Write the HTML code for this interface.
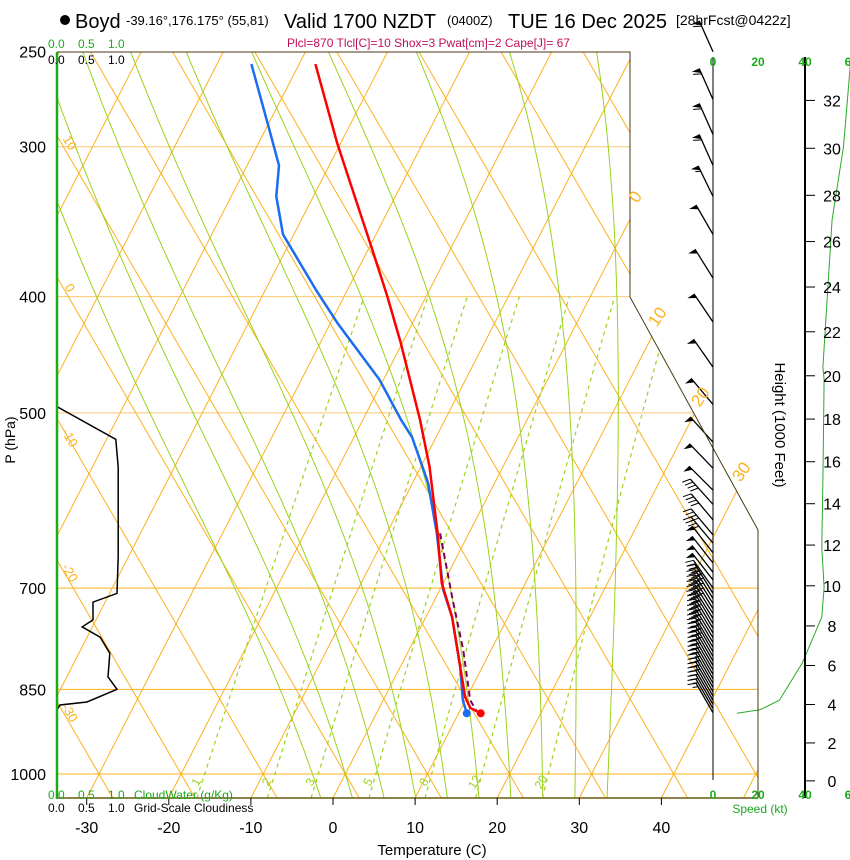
<!DOCTYPE html>
<html><head><meta charset="utf-8"><style>
html,body{margin:0;padding:0;background:#fff;}
svg{display:block;font-family:"Liberation Sans",sans-serif;}
</style></head><body>
<svg id="chart" width="850" height="860" viewBox="0 0 850 860" xmlns="http://www.w3.org/2000/svg">
<defs><clipPath id="plotclip"><polygon points="57,52 630,52 630,297 758,530 758,798 57,798"/></clipPath></defs>
<g id="grid" clip-path="url(#plotclip)"></g>
<g id="series"></g>
<g id="winds"></g>
<g id="axes"></g>
<g>
<circle cx="65" cy="20" r="5" fill="#000"/>
<text x="75" y="28" font-size="20">Boyd</text>
<text x="126" y="25" font-size="13">-39.16°,176.175° (55,81)</text>
<text x="284" y="28" font-size="20">Valid 1700 NZDT</text>
<text x="447" y="25" font-size="13">(0400Z)</text>
<text x="508" y="28" font-size="20">TUE 16 Dec 2025</text>
<text x="676" y="25" font-size="14">[28hrFcst@0422z]</text>
<text x="287" y="47" font-size="12" fill="#c0105a">Plcl=870 Tlcl[C]=10 Shox=3 Pwat[cm]=2 Cape[J]= 67</text>
</g>
</svg>
<script>
// ---- data ----
const tempP = [256,298,326,364,400,437,507,555,630,693,740,814,863,881,890];
const tempT = [-48.0,-40.4,-35.6,-29.7,-24.7,-20.2,-13.0,-8.9,-3.8,-0.2,3.2,7.3,9.8,11.1,12.7];
const dewP = [256,291,311,330,355,395,421,469,507,524,572,630,702,740,814,868,890];
const dewT = [-55.8,-49.4,-46.1,-44.5,-41.3,-33.8,-29.1,-20.5,-15.3,-12.9,-8.1,-3.9,0.4,3.2,7.3,9.7,11.0];
const parcelP = [630,716,788,868,888];
const parcelT = [-3.5,2.2,6.6,10.6,12.2];
const cloudP = [494,526,555,659,707,719,744,754,769,793,830,850,871,876,884];
const cloudV = [0,0.98,1.02,1.02,1.0,0.6,0.6,0.42,0.72,0.88,0.85,1.0,0.5,0.05,0];
const speedP = [890,884,868,808,740,699,647,569,469,458,345,300,256];
const speedV = [10.5,20.5,29,39,47.5,48.5,47.5,48,48.5,48,52,57,60];
const barbP = [250,274,293,311,330,355,386,420,458,492,529,556,580,596,614,632,642,654,667,679,689,700,707,714,721,728,735,742,749,756,763,770,777,784,791,798,805,812,819,826,833,840,847,854,861,868,875,882,889];
const barbDir = [336,336,336,336,334,330,328,326,325,320,318,316,315,318,320,320,320,322,322,322,322,325,328,328,328,328,328,328,329,329,329,329,329,329,330,330,330,330,330,330,330,330,330,330,330,330,330,330,330];
const barbSpd = [60,60,60,60,55,50,50,50,50,50,50,50,50,40,40,40,40,50,50,50,50,45,45,45,45,45,40,40,40,40,40,35,35,35,35,35,30,30,30,30,25,25,25,25,20,20,20,15,15];
const isoTemps = [-120,-110,-100,-90,-80,-70,-60,-50,-40,-30,-20,-10,0,10,20,30,40,50];
const thetaVals = [-40,-30,-20,-10,0,10,20,30,40,50,60,70,80,90,100,110,120,130,140,150,160];
const moistVals = [-4,0,4,8,12,16,20,24,28,32];
const mixVals = [1,2,3,5,8,12,20];
const tempTicks = [-30,-20,-10,0,10,20,30,40];
const presTicks = [250,300,400,500,700,850,1000];
const heightTicks = [0,2,4,6,8,10,12,14,16,18,20,22,24,26,28,30,32];
const isoLabels = [0,10,20,30];
const thetaLabels = [10,0,-10,-20,-30];

// ---- scales ----
const NS="http://www.w3.org/2000/svg";
function Y(p){return 774+521*Math.log(p/1000);}
function X(T,p){return 333+8.21*T+0.513*(798-Y(p));}
function TH(th,p){return X(th,1000)-0.58*(774-Y(p));}
function pOfY(y){return 1000*Math.exp((y-774)/521);}
function SX(s){return 713+s*2.29;}
function CX(c){return 57+c*60;}
function hY(kft){const z=kft*304.8;return Y(1013.25*Math.pow(1-2.25577e-5*z,5.25588));}
function mk(tag,attrs,parent){const e=document.createElementNS(NS,tag);for(const k in attrs)e.setAttribute(k,attrs[k]);parent.appendChild(e);return e;}
function poly(pts){return pts.map(q=>q[0].toFixed(1)+","+q[1].toFixed(1)).join(" ");}
const grid=document.getElementById('grid'),series=document.getElementById('series'),winds=document.getElementById('winds'),axes=document.getElementById('axes');
const ORANGE="#fbb21e",GREEN="#9ad21e";
const pBot=pOfY(798);

presTicks.forEach(p=>{
  const l=mk('line',{x1:57,x2:760,y1:Y(p),y2:Y(p),stroke:(p>=700?ORANGE:"#f8c870"),'stroke-width':1},grid);
  
  
});
isoTemps.forEach(t=>{
  const l=mk('line',{x1:X(t,pBot),y1:798,x2:X(t,250),y2:52,stroke:ORANGE,'stroke-width':1},grid);
  
  
});
thetaVals.forEach(th=>{
  const l=mk('line',{x1:TH(th,pBot),y1:798,x2:TH(th,250),y2:52,stroke:ORANGE,'stroke-width':1},grid);
  
  
});
function es(T){return 6.112*Math.exp(17.67*T/(T+243.5));}
function dTdp(Tc,p){const T=Tc+273.15;const e=es(Tc);const rs=0.622*e/(p-e);return (287*T+2.5e6*rs)/(p*(1004+2.5e6*2.5e6*rs*0.622/(287*T*T)));}
moistVals.forEach(t0=>{
  const pts=[];let T=t0,p=1000;const down=[];
  while(p<pBot){const d=5;T+=dTdp(T,p)*d;p+=d;down.push([X(T,p),Y(p)]);}
  T=t0;p=1000;pts.push([X(T,p),Y(p)]);
  while(p>250){const d=-5;T+=dTdp(T,p)*d;p+=d;pts.push([X(T,p),Y(p)]);}
  const all=down.reverse().concat(pts);
  const l=mk('polyline',{points:poly(all),fill:'none',stroke:GREEN,'stroke-width':1},grid);
  
  
});
function Tmix(w,p){const e=w*p/(622+w);const a=Math.log(e/6.112);return 243.5*a/(17.67-a);}
mixVals.forEach(w=>{
  const pts=[];for(let p=pBot;p>=400;p-=10)pts.push([X(Tmix(w,p),p),Y(p)]);pts.push([X(Tmix(w,400),400),Y(400)]);
  const l=mk('polyline',{points:poly(pts),fill:'none',stroke:GREEN,'stroke-width':1.2,'stroke-dasharray':'4,4'},grid);
  
  
  const lx=X(Tmix(w,1030),1030),ly=784;
  const tx=mk('text',{x:lx,y:ly,'font-size':12,fill:GREEN,transform:`rotate(-60 ${lx} ${ly})`,'text-anchor':'middle'},grid);tx.textContent=w;
  
  
});
mk('polyline',{points:"57,52 630,52 630,297 758,530 758,798",fill:'none',stroke:'#4a3a10','stroke-width':1},axes);
mk('line',{x1:57,y1:798,x2:758,y2:798,stroke:'#6a5a10','stroke-width':1.5},axes);
const gl=mk('line',{x1:57,y1:52,x2:57,y2:798,stroke:'#1aaa1a','stroke-width':2.5},axes);


const isoPos=[[640,200],[662,320],[705,400],[746,475]];
isoLabels.forEach((t,i)=>{const [x,y]=isoPos[i];const tx=mk('text',{x:x,y:y,'font-size':17,fill:ORANGE,transform:`rotate(-55 ${x} ${y})`,'text-anchor':'middle'},axes);tx.textContent=t;
  
  });
const thPos=[145,290,440,575,715];
thetaLabels.forEach((t,i)=>{const x=66,y=thPos[i];const tx=mk('text',{x:x,y:y,'font-size':13,fill:ORANGE,transform:`rotate(60 ${x} ${y})`,'text-anchor':'middle'},axes);tx.textContent=t;
  
  });
tempTicks.forEach(t=>{const x=333+8.21*t;
  mk('line',{x1:x,y1:798,x2:x,y2:805,stroke:'#000'},axes);
  const tx=mk('text',{x:x,y:833,'font-size':16,'text-anchor':'middle'},axes);tx.textContent=t;
  
  });
presTicks.forEach(p=>{const tx=mk('text',{x:46,y:Y(p)+6,'font-size':16,'text-anchor':'end'},axes);tx.textContent=p;
  
  });
mk('line',{x1:805,y1:57,x2:805,y2:798,stroke:'#000','stroke-width':2},axes);
mk('line',{x1:713,y1:57,x2:713,y2:780,stroke:'#000','stroke-width':1},axes);
heightTicks.forEach(h=>{const y=hY(h);mk('line',{x1:805,y1:y,x2:815,y2:y,stroke:'#000'},axes);
  const tx=mk('text',{x:832,y:y+6,'font-size':16,'text-anchor':'middle'},axes);tx.textContent=h;
  
  });
function txt(s,x,y,fs,fill,extra){const t=mk('text',Object.assign({x:x,y:y,'font-size':fs,fill:fill},extra||{}),axes);t.textContent=s;return t;}
let t;
t=txt('Temperature (C)',432,855,15,'#000',{'text-anchor':'middle'});
t=txt('P (hPa)',15,440,14,'#000',{'text-anchor':'middle',transform:'rotate(-90 15 440)'});
t=txt('Height (1000 Feet)',775,425,15,'#000',{'text-anchor':'middle',transform:'rotate(90 775 425)'});
[['0.0',48],['0.5',78],['1.0',108]].forEach(a=>{txt(a[0],a[1],48,12,'#1aaa1a');txt(a[0],a[1],64,12,'#000');txt(a[0],a[1],799,12,'#1aaa1a');txt(a[0],a[1],812,12,'#000');});
t=txt('CloudWater (g/Kg)',134,799,12,'#1aaa1a');
t=txt('Grid-Scale Cloudiness',134,812,12,'#000');
[['0',713],['20',758],['40',805],['6',848]].forEach(a=>{txt(a[0],a[1],66,12,'#1aaa1a',{'text-anchor':'middle','font-weight':'bold'});txt(a[0],a[1],799,12,'#1aaa1a',{'text-anchor':'middle','font-weight':'bold'});});
t=txt('Speed (kt)',760,813,12,'#1aaa1a',{'text-anchor':'middle'});

function line(P,V,fx,attrs,name){const pts=P.map((p,i)=>[fx(V[i],p),Y(p)]);const l=mk('polyline',Object.assign({points:poly(pts),fill:'none'},attrs),series);return pts;}
line(cloudP,cloudV,(v,p)=>CX(v),{stroke:'#000','stroke-width':1.5},'cloudiness-line');
line(speedP,speedV,(v,p)=>SX(v),{stroke:'#2aaa2a','stroke-width':1},'speed-line');
line(parcelP,parcelT,X,{stroke:'#800060','stroke-width':2,'stroke-dasharray':'6,4'},'parcel-line');
const dp=line(dewP,dewT,X,{stroke:'#1a6cf0','stroke-width':2.5},'dewpoint-line');
const tp=line(tempP,tempT,X,{stroke:'#ff0000','stroke-width':2.5},'temperature-line');
let c=mk('circle',{cx:dp[dp.length-1][0],cy:dp[dp.length-1][1],r:4,fill:'#1a6cf0'},series);
c=mk('circle',{cx:tp[tp.length-1][0],cy:tp[tp.length-1][1],r:4,fill:'#ff0000'},series);

barbP.forEach((p,i)=>{
  const d=barbDir[i]*Math.PI/180,bx=713,by=Y(p),L=34;
  const ux=Math.sin(d),uy=-Math.cos(d);const px=-Math.cos(d),py=-Math.sin(d);
  const g=mk('g',{},winds);
  
  
  const tx=bx+ux*L,ty=by+uy*L;
  mk('line',{x1:bx,y1:by,x2:tx,y2:ty,stroke:'#000','stroke-width':1.3},g);
  let s=barbSpd[i],pos=0;
  while(s>=50){const ax=tx-ux*pos,ay=ty-uy*pos;mk('polygon',{points:poly([[ax,ay],[ax+px*8,ay+py*8],[ax-ux*5,ay-uy*5]]),fill:'#000'},g);pos+=6;s-=50;}
  while(s>=10){const ax=tx-ux*pos,ay=ty-uy*pos;mk('line',{x1:ax,y1:ay,x2:ax+px*8+ux*3,y2:ay+py*8+uy*3,stroke:'#000','stroke-width':1},g);pos+=4;s-=10;}
  if(s>=5){const ax=tx-ux*pos,ay=ty-uy*pos;mk('line',{x1:ax,y1:ay,x2:ax+px*5+ux*2,y2:ay+py*5+uy*2,stroke:'#000','stroke-width':1},g);}
});
</script>
</body></html>
